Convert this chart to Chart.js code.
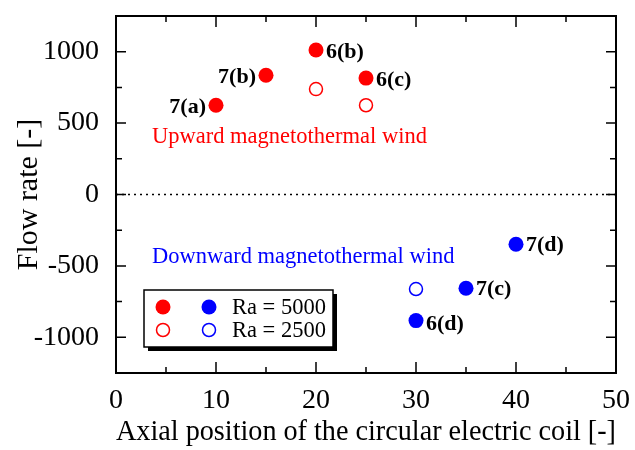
<!DOCTYPE html>
<html>
<head>
<meta charset="utf-8">
<script src="https://cdn.jsdelivr.net/npm/chart.js@4.4.0/dist/chart.umd.min.js"></script>
<style>
    html, body { margin: 0; padding: 0; background: #fff; }
    #wrap { width: 635px; height: 450px; }
</style>
</head>
<body>
<div id="wrap"><canvas id="flowChart" width="635" height="450"></canvas></div>
<script>
// Data
const xTicks = [0, 10, 20, 30, 40, 50];
const yTicks = [-1000, -500, 0, 500, 1000];

const upHighX = [10, 15, 20, 25];
const upHighY = [625, 835, 1012, 815];
const upHighLabels = ['7(a)', '7(b)', '6(b)', '6(c)'];

const upLowX = [20, 25];
const upLowY = [738, 625];

const downHighX = [40, 35, 30];
const downHighY = [-348, -657, -883];
const downHighLabels = ['7(d)', '7(c)', '6(d)'];

const downLowX = [30];
const downLowY = [-662];

const legendLabels = ['Ra = 5000', 'Ra = 2500'];

const RED = '#ff0000';
const BLUE = '#0000ff';
const SERIF = "'Liberation Serif', 'Times New Roman', serif";

function toPoints(xs, ys) {
    return xs.map((x, i) => ({ x: x, y: ys[i] }));
}

// Frame, inward ticks, zero line, point labels, notes and legend box
const decorPlugin = {
    id: 'decor',
    afterDatasetsDraw(chart) {
        const ctx = chart.ctx;
        const area = chart.chartArea;
        const xs = chart.scales.x;
        const ys = chart.scales.y;

        ctx.save();
        // dotted zero line
        ctx.strokeStyle = '#000';
        ctx.lineWidth = 1.5;
        ctx.setLineDash([2, 4]);
        ctx.beginPath();
        ctx.moveTo(area.left, ys.getPixelForValue(0));
        ctx.lineTo(area.right, ys.getPixelForValue(0));
        ctx.stroke();
        ctx.setLineDash([]);

        // frame
        ctx.lineWidth = 2;
        ctx.strokeRect(area.left, area.top, area.right - area.left, area.bottom - area.top);

        // ticks pointing inward on all four sides
        ctx.lineWidth = 1.5;
        ctx.beginPath();
        for (let v = 5; v < 50; v += 5) {
            const px = xs.getPixelForValue(v);
            const len = v % 10 === 0 ? 11 : 6;
            ctx.moveTo(px, area.bottom);
            ctx.lineTo(px, area.bottom - len);
            ctx.moveTo(px, area.top);
            ctx.lineTo(px, area.top + len);
        }
        for (let v = -1000; v <= 1000; v += 250) {
            const py = ys.getPixelForValue(v);
            const len = v % 500 === 0 ? 10 : 6;
            ctx.moveTo(area.left, py);
            ctx.lineTo(area.left + len, py);
            ctx.moveTo(area.right, py);
            ctx.lineTo(area.right - len, py);
        }
        ctx.stroke();

        // point labels
        ctx.fillStyle = '#000';
        ctx.font = 'bold 22px ' + SERIF;
        ctx.textBaseline = 'middle';
        const metaUp = chart.getDatasetMeta(0);
        metaUp.data.forEach((pt, i) => {
            const left = upHighX[i] < 20;
            ctx.textAlign = left ? 'right' : 'left';
            ctx.fillText(upHighLabels[i], pt.x + (left ? -10 : 10), pt.y + 2);
        });
        const metaDown = chart.getDatasetMeta(2);
        metaDown.data.forEach((pt, i) => {
            ctx.textAlign = 'left';
            const dy = i === 2 ? 4 : 1;
            ctx.fillText(downHighLabels[i], pt.x + 10, pt.y + dy);
        });

        // notes
        ctx.font = '22.5px ' + SERIF;
        ctx.textAlign = 'left';
        ctx.fillStyle = RED;
        ctx.fillText('Upward magnetothermal wind', xs.getPixelForValue(3.6), ys.getPixelForValue(405));
        ctx.fillStyle = BLUE;
        ctx.fillText('Downward magnetothermal wind', xs.getPixelForValue(3.6), ys.getPixelForValue(-435));

        // legend box with shadow
        const bx = area.left + 28, by = area.top + 274, bw = 189, bh = 57;
        ctx.fillStyle = '#000';
        ctx.fillRect(bx + 4, by + 4, bw, bh);
        ctx.fillStyle = '#fff';
        ctx.fillRect(bx, by, bw, bh);
        ctx.strokeStyle = '#000';
        ctx.lineWidth = 1.5;
        ctx.strokeRect(bx, by, bw, bh);

        const rows = [by + 17, by + 40];
        const cols = [bx + 19, bx + 65];
        const colors = [RED, BLUE];
        rows.forEach((ry, r) => {
            cols.forEach((cx, c) => {
                ctx.beginPath();
                if (r === 0) {
                    ctx.arc(cx, ry, 7.5, 0, Math.PI * 2);
                    ctx.fillStyle = colors[c];
                    ctx.fill();
                } else {
                    ctx.arc(cx, ry, 6.5, 0, Math.PI * 2);
                    ctx.strokeStyle = colors[c];
                    ctx.lineWidth = 1.5;
                    ctx.stroke();
                }
            });
            ctx.fillStyle = '#000';
            ctx.font = '22.5px ' + SERIF;
            ctx.textAlign = 'left';
            ctx.fillText(legendLabels[r], bx + 88, ry + 1);
        });
        ctx.restore();
    }
};

const ctx = document.getElementById('flowChart').getContext('2d');
const flowChart = new Chart(ctx, {
    type: 'scatter',
    data: {
        datasets: [
            {
                label: 'Upward, Ra = 5000',
                data: toPoints(upHighX, upHighY),
                backgroundColor: RED,
                borderColor: RED,
                pointRadius: 7.5,
                borderWidth: 0
            },
            {
                label: 'Upward, Ra = 2500',
                data: toPoints(upLowX, upLowY),
                backgroundColor: '#fff',
                borderColor: RED,
                pointRadius: 6.5,
                borderWidth: 1.5
            },
            {
                label: 'Downward, Ra = 5000',
                data: toPoints(downHighX, downHighY),
                backgroundColor: BLUE,
                borderColor: BLUE,
                pointRadius: 7.5,
                borderWidth: 0
            },
            {
                label: 'Downward, Ra = 2500',
                data: toPoints(downLowX, downLowY),
                backgroundColor: '#fff',
                borderColor: BLUE,
                pointRadius: 6.5,
                borderWidth: 1.5
            }
        ]
    },
    options: {
        responsive: false,
        animation: false,
        devicePixelRatio: 1,
        layout: {
            padding: { left: 0, right: 19, top: 16, bottom: 0 }
        },
        plugins: {
            legend: { display: false },
            tooltip: { enabled: false }
        },
        scales: {
            x: {
                type: 'linear',
                min: 0,
                max: 50,
                afterBuildTicks: scale => { scale.ticks = xTicks.map(v => ({ value: v })); },
                afterFit: scale => {
                    scale.height = 77;
                    scale.paddingLeft = 0;
                    scale.paddingRight = 0;
                },
                ticks: {
                    color: '#000',
                    padding: 3,
                    maxRotation: 0,
                    font: { family: SERIF, size: 28 }
                },
                grid: { display: false },
                border: { display: false },
                title: {
                    display: true,
                    text: 'Axial position of the circular electric coil [-]',
                    color: '#000',
                    padding: { top: 0, bottom: 0 },
                    font: { family: SERIF, size: 30 }
                }
            },
            y: {
                type: 'linear',
                min: -1250,
                max: 1250,
                afterBuildTicks: scale => { scale.ticks = yTicks.map(v => ({ value: v })); },
                afterFit: scale => {
                    scale.width = 116;
                    scale.paddingTop = 0;
                    scale.paddingBottom = 0;
                },
                ticks: {
                    color: '#000',
                    padding: 9,
                    font: { family: SERIF, size: 28 },
                    callback: v => String(v)
                },
                grid: { display: false },
                border: { display: false },
                title: {
                    display: true,
                    text: 'Flow rate [-]',
                    color: '#000',
                    padding: { top: 11, bottom: 0 },
                    font: { family: SERIF, size: 30 }
                }
            }
        }
    },
    plugins: [decorPlugin]
});
</script>
</body>
</html>
